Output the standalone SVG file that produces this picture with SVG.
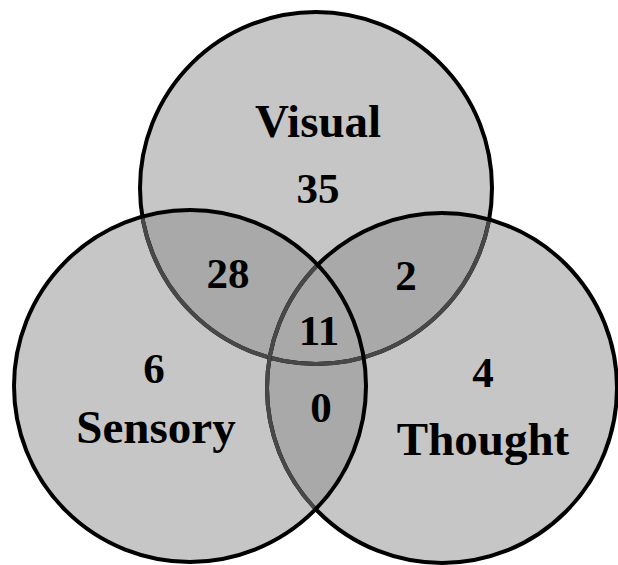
<svg xmlns="http://www.w3.org/2000/svg" width="618" height="565" viewBox="0 0 618 565">
<style>
.fill{fill:#c6c6c6;stroke:none}
.ov{fill:#a9a9a9;stroke:none}
.edge{fill:none;stroke:#000;stroke-width:4}
.under{fill:none;stroke:#484848;stroke-width:4}
.lbl{font-family:"Liberation Serif","Times New Roman",serif;font-weight:bold;fill:#000;text-anchor:middle}
.w{font-size:47px}
.n{font-size:43px}
</style>
<defs>
<clipPath id="cV"><circle cx="316" cy="188" r="176"/></clipPath>
<clipPath id="cS"><circle cx="190" cy="386" r="176"/></clipPath>
<clipPath id="cT"><circle cx="442" cy="388" r="175"/></clipPath>
<clipPath id="cST"><circle cx="190" cy="386" r="176"/><circle cx="442" cy="388" r="175"/></clipPath>
</defs>
<rect width="618" height="565" fill="#fff"/>
<g id="fills">
<circle class="fill" cx="316" cy="188" r="176"/>
<circle class="fill" cx="442" cy="388" r="175"/>
<circle class="fill" cx="190" cy="386" r="176"/>
<g clip-path="url(#cV)"><circle class="ov" cx="190" cy="386" r="176"/><circle class="ov" cx="442" cy="388" r="175"/></g>
<g clip-path="url(#cS)"><circle class="ov" cx="442" cy="388" r="175"/></g>
</g>
<g id="visual">
<circle class="edge" cx="316" cy="188" r="176"/>
<circle class="under" cx="316" cy="188" r="176" clip-path="url(#cST)"/>
<text class="lbl w" x="318" y="137">Visual</text>
<text class="lbl n" x="318" y="203">35</text>
</g>
<g id="thought">
<circle class="edge" cx="442" cy="388" r="175"/>
<circle class="under" cx="442" cy="388" r="175" clip-path="url(#cS)"/>
<text class="lbl n" x="483" y="387">4</text>
<text class="lbl w" x="483" y="455">Thought</text>
</g>
<g id="sensory">
<circle class="edge" cx="190" cy="386" r="176"/>
<text class="lbl n" x="154" y="383">6</text>
<text class="lbl w" x="156" y="443">Sensory</text>
</g>
<g id="overlaps">
<text class="lbl n" x="228" y="288">28</text>
<text class="lbl n" x="406" y="290">2</text>
<text class="lbl n" x="319" y="345">11</text>
<text class="lbl n" x="321" y="422">0</text>
</g>
<g id="connectors"/>
</svg>
